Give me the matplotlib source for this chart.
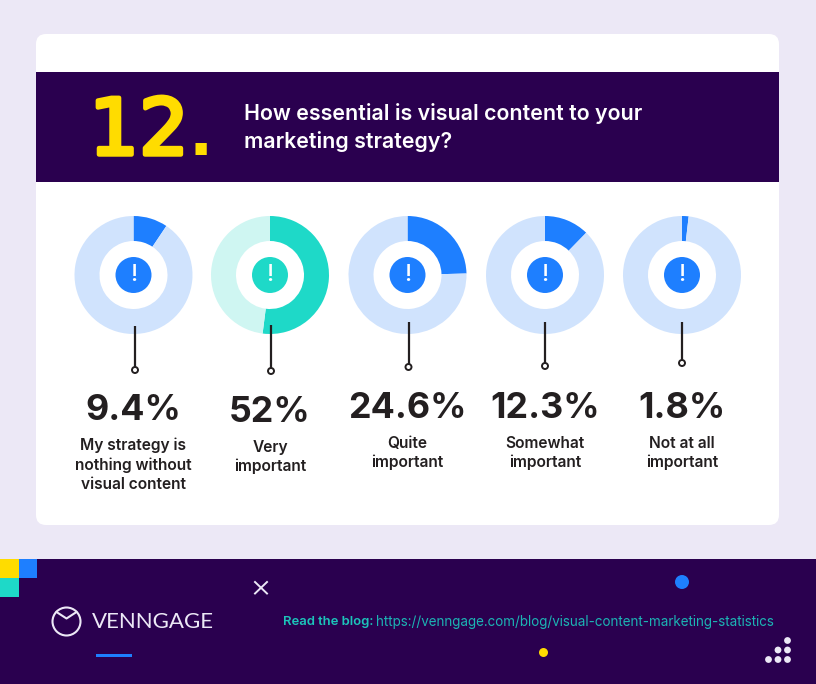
import matplotlib
matplotlib.use('Agg')
import matplotlib.pyplot as plt
import matplotlib.patheffects as pe
from matplotlib.patches import Circle, FancyBboxPatch, Rectangle

percent_values = [9.4, 52, 24.6, 12.3, 1.8]
percent_labels = ['9.4%', '52%', '24.6%', '12.3%', '1.8%']
answer_labels = ['My strategy is\nnothing without\nvisual content', 'Very\nimportant',
                 'Quite\nimportant', 'Somewhat\nimportant', 'Not at all\nimportant']

center_x = [133.5, 270, 407.5, 545, 682]
stem_x = [135, 271, 408.5, 545, 682]
stem_top = [326, 325, 322, 322, 322]
stem_bottom = [370, 371, 367, 366, 363]
pct_y = [411, 413, 409, 408, 408]
label_y = [465, 457, 453, 453, 453]

PURPLE = '#2a004f'
BLUE = '#1e7fff'
LIGHT_BLUE = '#d0e3fd'
TEAL = '#1ed9c8'
LIGHT_TEAL = '#cff6f2'
DARK = '#231f20'
YELLOW = '#ffdc00'
LILAC = '#ece8f6'
WIDTH = 816
HEIGHT = 684


def flip(y):
    return HEIGHT - y


fig = plt.figure(figsize=(8.16, 6.84), dpi=100, facecolor=LILAC)
ax = fig.add_axes([0, 0, 1, 1])
ax.set_facecolor(LILAC)

ax.add_patch(FancyBboxPatch((46, flip(515)), 723, 471, boxstyle='round,pad=10,rounding_size=10',
                            fc='white', ec='none'))
ax.add_patch(Rectangle((36, flip(182)), 743, 110, fc=PURPLE, ec='none'))
ax.add_patch(Rectangle((0, 0), WIDTH, flip(559), fc=PURPLE, ec='none'))

# the big number is spaced by hand, the serif 1 comes from DejaVu
fat = [pe.withStroke(linewidth=3.2, foreground=YELLOW)]
ax.text(114, flip(154.5), '1', color=YELLOW, fontsize=56, family='DejaVu Sans', ha='center', va='baseline',
        path_effects=fat)
ax.text(164, flip(154.5), '2', color=YELLOW, fontsize=56, family='DejaVu Sans', ha='center', va='baseline',
        path_effects=fat)
ax.text(200.5, flip(155), '.', color=YELLOW, fontsize=46, fontweight='bold', family='DejaVu Sans', ha='center',
        va='baseline')
ax.text(244, flip(113), 'How essential is visual content to your', color='white', fontsize=15.4,
        fontweight='semibold', family='Inter', va='center')
ax.text(244, flip(142), 'marketing strategy?', color='white', fontsize=15.4,
        fontweight='semibold', family='Inter', va='center')

for i, value in enumerate(percent_values):
    main = TEAL if i == 1 else BLUE
    back = LIGHT_TEAL if i == 1 else LIGHT_BLUE
    cy = flip(275)
    ax.pie([value, 100 - value], colors=[main, back], startangle=90, counterclock=False,
           center=(center_x[i], cy), radius=59, frame=True,
           wedgeprops={'width': 25, 'linewidth': 0})
    ax.add_patch(Circle((center_x[i], cy), 18, fc=main, ec='none'))
    ax.text(center_x[i], cy, '!', color='white', fontsize=17, fontweight='medium', family='Inter',
            ha='center', va='center')
    ax.plot([stem_x[i], stem_x[i]], [flip(stem_top[i]), flip(stem_bottom[i] - 3)], color=DARK, lw=1.6,
            solid_capstyle='butt')
    ax.add_patch(Circle((stem_x[i], flip(stem_bottom[i])), 3, fc='white', ec=DARK, lw=1.4, zorder=3))
    ax.text(center_x[i], flip(pct_y[i]), percent_labels[i], color=DARK, fontsize=25.8, fontweight='bold',
            family='Inter', ha='center', va='center')
    ax.text(center_x[i], flip(label_y[i]), answer_labels[i], color=DARK, fontsize=11.2, fontweight='semibold',
            family='Inter', ha='center', va='center', linespacing=1.33)

# footer bits
ax.add_patch(Rectangle((0, flip(578)), 19, 19, fc=YELLOW, ec='none'))
ax.add_patch(Rectangle((19, flip(578)), 18, 19, fc=BLUE, ec='none'))
ax.add_patch(Rectangle((0, flip(597)), 19, 19, fc=TEAL, ec='none'))
ax.plot([255, 267], [flip(582), flip(593.5)], color=LILAC, lw=1.4)
ax.plot([255, 267], [flip(593.5), flip(582)], color=LILAC, lw=1.4)

ax.add_patch(Circle((66.5, flip(621.5)), 14, fc='none', ec=LILAC, lw=1.5))
ax.plot([56.5, 66.5, 76.5], [flip(612), flip(618.5), flip(612)], color=LILAC, lw=1.5)
ax.text(92, flip(621.5), 'VENNGAGE', color=LILAC, fontsize=16, fontweight='normal', family='Lato', va='center')
ax.add_patch(Rectangle((96, flip(657)), 36, 3, fc=BLUE, ec='none'))

ax.text(283, flip(622), 'Read the blog:', color='#1cc4ba', fontsize=9.4, fontweight='semibold', family='Inter', va='center')
ax.text(376, flip(622), 'https://venngage.com/blog/visual-content-marketing-statistics', color='#1cb4b4',
        fontsize=9.67, family='Inter', va='center')

ax.add_patch(Circle((682, flip(582)), 7, fc=BLUE, ec='none'))
ax.add_patch(Circle((543.5, flip(652.5)), 4.5, fc=YELLOW, ec='none'))
for dx, dy in [(787.5, 640.5), (778, 650), (787.5, 650), (768.5, 659.5), (778, 659.5), (787.5, 659.5)]:
    ax.add_patch(Circle((dx, flip(dy)), 3.4, fc=LILAC, ec='none'))

ax.set_xlim(0, WIDTH)
ax.set_ylim(0, HEIGHT)
ax.set_aspect('auto')
ax.axis('off')
fig.savefig('out.png', dpi=100, facecolor=LILAC)
